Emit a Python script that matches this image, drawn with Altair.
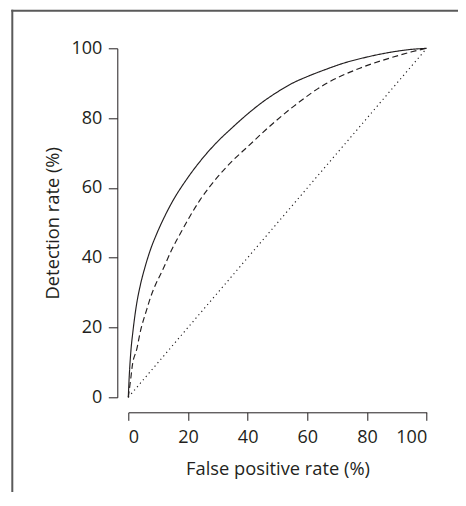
import altair as alt
import pandas as pd

# False positive rate (%) and detection rate (%)
solid_fpr = [0, 0.2, 0.9, 1.5, 2.8, 4.0, 5.7, 7.3, 9.6, 12.0, 14.6, 20.0, 25.0, 29.6, 35.0, 40.0, 45.0, 50.0, 55.0, 60.0, 66.0, 72.0, 80.0, 88.8, 95.0, 100]
solid_tpr = [0, 4.0, 13.6, 18.5, 26.8, 32.0, 37.6, 42.0, 47.0, 51.5, 55.8, 63.0, 68.6, 73.0, 77.4, 81.2, 84.6, 87.5, 90.0, 91.9, 93.9, 95.7, 97.5, 99.0, 99.7, 100]

dashed_fpr = [0, 0.9, 1.3, 2.9, 3.9, 6.3, 7.4, 12.0, 14.5, 17.8, 24.0, 30.0, 35.2, 40.0, 46.0, 55.3, 66.5, 77.6, 88.8, 95.0, 100]
dashed_tpr = [0, 5.9, 8.8, 14.0, 18.3, 25.5, 28.5, 37.4, 42.2, 47.5, 56.5, 63.2, 68.0, 71.8, 76.6, 83.3, 90.0, 94.3, 97.5, 99.0, 100]

dotted_fpr = [0, 100]
dotted_tpr = [0, 100]

ticks = [0, 20, 40, 60, 80, 100]

rows = []
for name, xs, ys in [("solid", solid_fpr, solid_tpr), ("dashed", dashed_fpr, dashed_tpr), ("dotted", dotted_fpr, dotted_tpr)]:
    for x, y in zip(xs, ys):
        rows.append({"series": name, "fpr": x, "tpr": y})
df = pd.DataFrame(rows)

INK = "#231f20"
FONT = "Open Sans"

lines = alt.Chart(df).mark_line(color=INK, interpolate="monotone").encode(
    x=alt.X("fpr:Q", scale=alt.Scale(domain=[0, 100], nice=False, zero=False),
            axis=alt.Axis(values=ticks, title="False positive rate (%)", offset=15,
                          tickSize=8, labelPadding=8, titlePadding=14)),
    y=alt.Y("tpr:Q", scale=alt.Scale(domain=[0, 100], nice=False, zero=False),
            axis=alt.Axis(values=ticks, title="Detection rate (%)", offset=11,
                          tickSize=9, labelPadding=6.5, titlePadding=8)),
    strokeDash=alt.StrokeDash("series:N",
                              scale=alt.Scale(domain=["solid", "dashed", "dotted"],
                                              range=[[1, 0], [6, 3.5], [1.2, 3.3]]),
                              legend=None),
    strokeWidth=alt.StrokeWidth("series:N",
                                scale=alt.Scale(domain=["solid", "dashed", "dotted"],
                                                range=[1.15, 1.15, 1.5]),
                                legend=None),
    detail="series:N",
)

frame_df = pd.DataFrame({"k": [0]})
frame_left = alt.Chart(frame_df).mark_rule(color="#5a5a5a", strokeWidth=2).encode(
    x=alt.value(-116.0), y=alt.value(-38.5), y2=alt.value(500)
)
frame_top = alt.Chart(frame_df).mark_rule(color="#5a5a5a", strokeWidth=2).encode(
    y=alt.value(-37.5), x=alt.value(-117.0), x2=alt.value(400)
)

chart = alt.layer(frame_left, frame_top, lines).properties(
    width=298.4, height=349,
    autosize=alt.AutoSizeParams(type="none"),
    padding={"left": 120.3, "top": 40.3, "right": 31.3, "bottom": 94.7},
    background="white",
).configure_view(stroke=None).configure_axis(
    grid=False, domainColor=INK, tickColor=INK, domainWidth=1, tickWidth=1,
    labelFont=FONT, labelFontSize=18, labelColor=INK,
    titleFont=FONT, titleFontSize=18.3, titleColor=INK, titleFontWeight="normal",
)

chart.save("out.html", embed_options={"renderer": "svg", "actions": False})
